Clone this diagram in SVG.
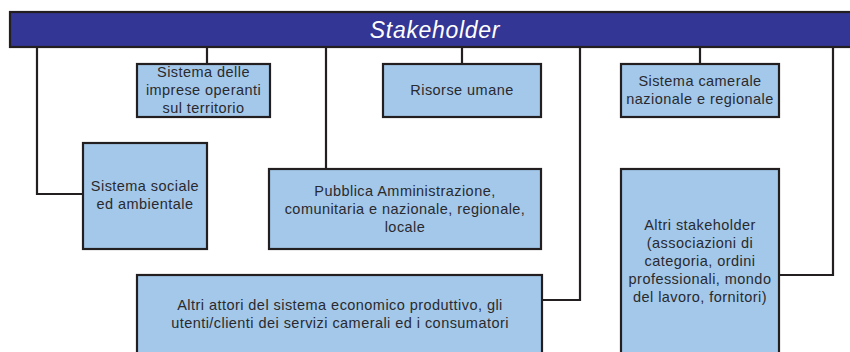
<svg xmlns="http://www.w3.org/2000/svg" width="850" height="352" viewBox="0 0 850 352">
<style>
.box{fill:#a3c8ea;stroke:#231f20;stroke-width:2.2}
.t{font-family:"Liberation Sans",Arial,sans-serif;font-size:14.5px;fill:#2a2a2e;text-anchor:middle;letter-spacing:0.45px}
.c{fill:none;stroke:#231f20;stroke-width:2.2}
</style>
<rect width="850" height="352" fill="#ffffff"/>
<g id="header">
<rect x="10" y="12" width="845" height="35" fill="#333694" stroke="#231f20" stroke-width="2.2"/>
<text x="435" y="37.5" font-family="Liberation Sans,Arial,sans-serif" font-size="23" font-style="italic" fill="#ffffff" text-anchor="middle" letter-spacing="0.7">Stakeholder</text>
</g>
<g id="connectors">
<polyline class="c" points="37,47 37,194 83,194"/>
<line class="c" x1="207" y1="47" x2="207" y2="64"/>
<line class="c" x1="326" y1="47" x2="326" y2="169"/>
<line class="c" x1="462" y1="47" x2="462" y2="64"/>
<polyline class="c" points="580,47 580,300 542,300"/>
<line class="c" x1="700" y1="47" x2="700" y2="64"/>
<polyline class="c" points="833,47 833,275 779,275"/>
</g>
<g id="imprese">
<rect class="box" x="137" y="64" width="133" height="53"/>
<text class="t" x="203.5" y="77">Sistema delle</text>
<text class="t" x="203.5" y="95">imprese operanti</text>
<text class="t" x="203.5" y="113">sul territorio</text>
</g>
<g id="risorse">
<rect class="box" x="383" y="64" width="158" height="53"/>
<text class="t" x="462" y="95">Risorse umane</text>
</g>
<g id="camerale">
<rect class="box" x="621" y="64" width="158" height="53"/>
<text class="t" x="700" y="86">Sistema camerale</text>
<text class="t" x="700" y="104">nazionale e regionale</text>
</g>
<g id="sociale">
<rect class="box" x="83" y="143" width="124" height="106"/>
<text class="t" x="145" y="191">Sistema sociale</text>
<text class="t" x="145" y="209">ed ambientale</text>
</g>
<g id="pa">
<rect class="box" x="269" y="169" width="272" height="80"/>
<text class="t" x="405" y="196">Pubblica Amministrazione,</text>
<text class="t" x="405" y="214">comunitaria e nazionale, regionale,</text>
<text class="t" x="405" y="232">locale</text>
</g>
<g id="altri-attori">
<rect class="box" x="137" y="275" width="405" height="90"/>
<text class="t" x="340" y="310">Altri attori del sistema economico produttivo, gli</text>
<text class="t" x="340" y="328">utenti/clienti dei servizi camerali ed i consumatori</text>
</g>
<g id="altri-stakeholder">
<rect class="box" x="621" y="169" width="158" height="200"/>
<text class="t" x="700" y="230">Altri stakeholder</text>
<text class="t" x="700" y="248">(associazioni di</text>
<text class="t" x="700" y="266">categoria, ordini</text>
<text class="t" x="700" y="284">professionali, mondo</text>
<text class="t" x="700" y="302">del lavoro, fornitori)</text>
</g>
</svg>
